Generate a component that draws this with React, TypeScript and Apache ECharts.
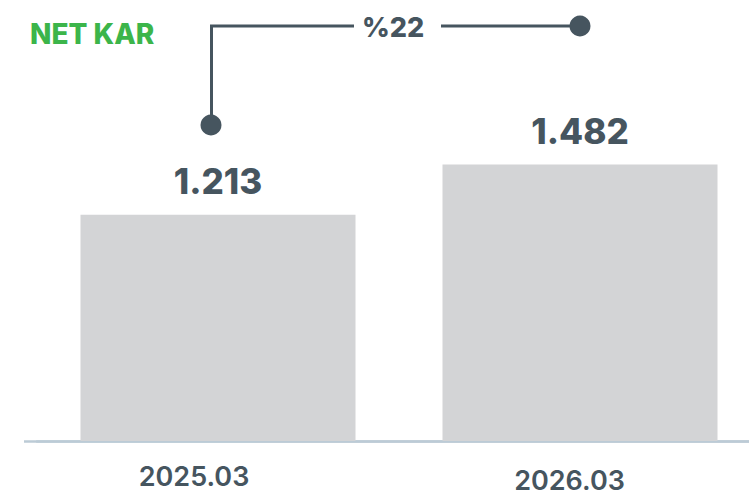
import React, { useEffect, useRef } from "react";
import * as echarts from "echarts";

const categories = ["2025.03", "2026.03"];
const values = [1213, 1482];
const title = "NET KAR";
const changeLabel = "%22";

const DARK = "#46555f";
const BAR = "#d3d4d6";
const AXIS = "#bccbd6";
const GREEN = "#3cb54a";
const FONT = "Inter, 'Open Sans', sans-serif";

function fmt(v: number): string {
  return String(v).replace(/\B(?=(\d{3})+(?!\d))/g, ".");
}

export default function App() {
  const ref = useRef<HTMLDivElement>(null);
  useEffect(() => {
    if (!ref.current) return;
    const chart = echarts.init(ref.current, null, { renderer: "svg" });
    chart.setOption({
      animation: false,
      backgroundColor: "#ffffff",
      title: {
        text: title,
        left: 25,
        top: 15,
        textStyle: { color: GREEN, fontSize: 28, fontWeight: 800, fontFamily: FONT },
      },
      grid: {
        left: 37,
        top: 68,
        width: 724,
        height: 373,
        containLabel: false,
        outerBoundsMode: "none",
      },
      xAxis: {
        type: "category",
        data: categories,
        axisLine: { show: true, lineStyle: { color: AXIS, width: 2.5 } },
        axisTick: { show: false },
        axisLabel: {
          margin: 22,
          formatter: (v: string, i: number) => (i === 0 ? `{a|${v}}` : `{b|${v}}`),
          rich: {
            a: {
              color: DARK,
              fontSize: 27,
              fontWeight: 600,
              fontFamily: FONT,
              padding: [0, 48, 4, 0],
            },
            b: {
              color: DARK,
              fontSize: 27,
              fontWeight: 600,
              fontFamily: FONT,
              padding: [4, 21, 0, 0],
            },
          },
        },
      },
      yAxis: {
        type: "value",
        min: 0,
        max: 2000,
        show: false,
        splitLine: { show: false },
      },
      series: [
        {
          type: "bar",
          data: values,
          barWidth: 275,
          itemStyle: { color: BAR },
          label: {
            show: true,
            position: "top",
            distance: 16,
            color: DARK,
            fontSize: 35,
            fontWeight: 800,
            fontFamily: FONT,
            formatter: (p: any) => fmt(p.value),
          },
        },
      ],
      graphic: [
        {
          type: "line",
          shape: { x1: 24, y1: 441.5, x2: 749, y2: 441.5 },
          style: { stroke: AXIS, lineWidth: 2.5 },
        },
        {
          type: "polyline",
          shape: { points: [[211.5, 125], [211.5, 26], [354, 26]] },
          style: { stroke: DARK, lineWidth: 3, fill: null },
        },
        {
          type: "line",
          shape: { x1: 441, y1: 26, x2: 580, y2: 26 },
          style: { stroke: DARK, lineWidth: 3 },
        },
        { type: "circle", shape: { cx: 211, cy: 125, r: 10.5 }, style: { fill: DARK } },
        { type: "circle", shape: { cx: 580, cy: 26, r: 10.5 }, style: { fill: DARK } },
        {
          type: "text",
          x: 393,
          y: 27,
          style: {
            text: changeLabel,
            fill: DARK,
            fontSize: 27,
            fontWeight: 800,
            fontFamily: FONT,
            align: "center",
            verticalAlign: "middle",
          },
        },
      ],
    });
    return () => chart.dispose();
  }, []);
  return (
    <div
      ref={ref}
      style={{ position: "absolute", left: 0, top: 0, width: 749, height: 502 }}
    />
  );
}
